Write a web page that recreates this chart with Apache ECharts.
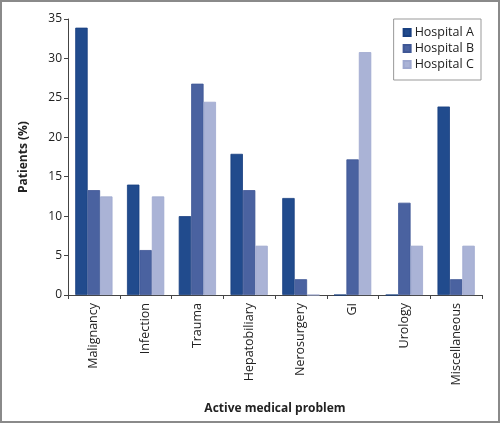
<!DOCTYPE html>
<html>
<head>
<meta charset="utf-8">
<script src="https://cdn.jsdelivr.net/npm/echarts@6/dist/echarts.min.js"></script>
<style>
  html, body { margin: 0; padding: 0; background: #fff; }
  #frame { width: 500px; height: 423px; box-sizing: border-box; border: 2px solid #8a8a8a; position: relative; }
  #chart { position: absolute; left: -2px; top: -2px; width: 500px; height: 423px; }
</style>
</head>
<body>
<div id="frame"><div id="chart"></div></div>
<script>
// categories and values
var problems = ['Malignancy', 'Infection', 'Trauma', 'Hepatobiliary', 'Nerosurgery', 'GI', 'Urology', 'Miscellaneous']
var hospitalA = [33.9, 14.0, 10.0, 17.9, 12.3, 0, 0, 23.9]
var hospitalB = [13.3, 5.7, 26.8, 13.3, 2.0, 17.2, 11.7, 2.0]
var hospitalC = [12.5, 12.5, 24.5, 6.25, 0, 30.8, 6.25, 6.25]
var yTicks = [0, 5, 10, 15, 20, 25, 30, 35]

var font = '"Open Sans", sans-serif'
var colors = ['#214b8d', '#4a62a0', '#aab3d6']
var borders = ['#183f80', '#3f5795', '#9ea8cf']

var chart = echarts.init(document.getElementById('chart'))

function bar(name, values, i) {
  return {
    name: name,
    type: 'bar',
    data: values,
    barGap: '0%',
    barCategoryGap: '28%',
    itemStyle: { color: colors[i], borderColor: borders[i], borderWidth: 0.8 }
  }
}

var option = {
  animation: false,
  textStyle: { fontFamily: font, color: '#222' },
  grid: { left: 68, right: 18, top: 19, bottom: 128 },
  legend: {
    orient: 'vertical',
    right: 19,
    top: 19,
    padding: [7, 7, 9, 9],
    itemWidth: 7,
    itemHeight: 7,
    itemGap: 3,
    icon: 'rect',
    borderColor: '#999',
    borderWidth: 1,
    textStyle: { fontFamily: font, fontSize: 12.5, color: '#222', padding: [0, 0, 0, -1] },
    data: ['Hospital A', 'Hospital B', 'Hospital C']
  },
  xAxis: {
    type: 'category',
    data: problems,
    name: 'Active medical problem',
    nameLocation: 'middle',
    nameGap: 108,
    nameTextStyle: { fontFamily: font, fontWeight: 'bold', fontSize: 12, color: '#222' },
    axisLine: { lineStyle: { color: '#444', width: 1 } },
    axisTick: { show: true, length: 4, lineStyle: { color: '#444' } },
    axisLabel: { rotate: 90, margin: 8, fontSize: 12.5, color: '#222', fontFamily: font }
  },
  yAxis: {
    type: 'value',
    min: yTicks[0],
    max: yTicks[yTicks.length - 1],
    interval: 5,
    name: 'Patients (%)',
    nameLocation: 'middle',
    nameGap: 38,
    nameTextStyle: { fontFamily: font, fontWeight: 'bold', fontSize: 12, color: '#222' },
    axisLine: { show: true, lineStyle: { color: '#444', width: 1 } },
    axisTick: { show: true, length: 4, lineStyle: { color: '#444' } },
    axisLabel: { margin: 6, fontSize: 12, color: '#222', fontFamily: font },
    splitLine: { show: false }
  },
  series: [
    bar('Hospital A', hospitalA, 0),
    bar('Hospital B', hospitalB, 1),
    bar('Hospital C', hospitalC, 2)
  ]
}

option && chart.setOption(option)
</script>
</body>
</html>
